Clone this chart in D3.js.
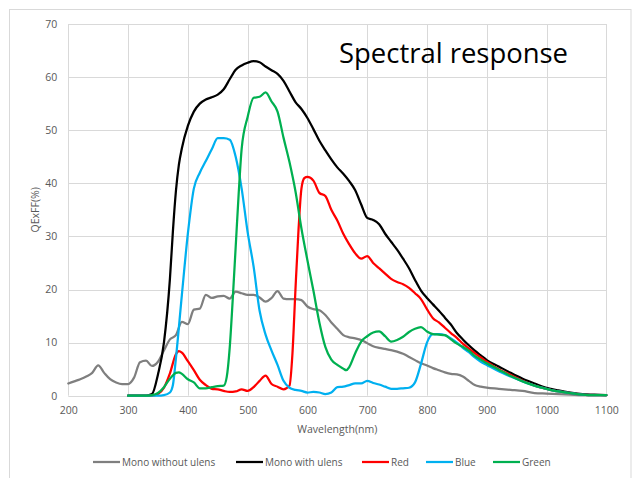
<!DOCTYPE html>
<html>
<head>
<meta charset="utf-8">
<script src="https://cdn.jsdelivr.net/npm/d3@7"></script>
<style>
  html, body { margin: 0; padding: 0; background: #ffffff; }
  svg { display: block; }
</style>
</head>
<body>
<svg id="chart" width="633" height="478"></svg>
<script>
// ---------------- DATA ----------------
const xTicks = [200, 300, 400, 500, 600, 700, 800, 900, 1000, 1100];
const yTicks = [0, 10, 20, 30, 40, 50, 60, 70];
const seriesNames = ["Mono without ulens", "Mono with ulens", "Red", "Blue", "Green"];
const seriesColors = ["#7f7f7f", "#000000", "#ff0000", "#00b0f0", "#00b050"];

const monoNoLensWl = [200,210,220,230,240,250,260,270,280,290,300,310,320,330,340,350,360,370,380,390,400,410,420,430,440,450,460,470,480,490,500,510,520,530,540,550,560,570,580,590,600,610,620,630,640,650,660,670,680,690,700,710,720,730,740,750,760,770,780,790,800,810,820,830,840,850,860,870,880,890,900,920,940,960,980,1000,1020,1040,1060,1080,1100];
const monoNoLensQE = [2.3,2.7,3.1,3.6,4.3,5.7,4.3,3.1,2.5,2.2,2.2,3.4,6.3,6.6,5.6,6.4,8.5,10.6,11.4,13.9,13.5,16.2,16.4,19.0,18.4,18.7,18.8,18.3,19.6,19.3,19.0,19.0,18.5,17.7,18.4,19.7,18.3,18.2,18.2,18.0,16.8,16.3,16.1,15.2,13.8,12.6,11.4,11.0,10.8,10.5,9.9,9.3,9.0,8.8,8.6,8.3,7.9,7.3,6.7,6.1,5.7,5.2,4.8,4.4,4.1,4.0,3.6,2.8,2.0,1.7,1.5,1.3,1.1,0.9,0.5,0.4,0.3,0.2,0.1,0.1,0.1];

const monoLensWl = [300,320,330,340,350,360,370,375,380,385,390,400,410,420,430,440,450,460,470,480,490,500,510,520,530,540,550,560,570,580,590,600,610,620,630,640,650,660,670,680,690,700,710,720,730,740,750,760,770,780,790,800,810,820,830,840,850,860,870,880,890,900,920,940,960,980,1000,1020,1040,1060,1080,1100];
const monoLensQE = [0,0,0,0.3,4,10,22,31,38.5,43.5,46.6,50.8,53.5,55.0,55.8,56.2,56.7,57.7,59.6,61.4,62.2,62.7,63.0,62.8,62.0,61.3,60.6,59.3,57.3,55.3,54.0,52.3,50.2,48.0,46.2,44.5,43.0,41.8,40.4,38.7,36.0,33.5,33.1,32.3,30.5,29.0,27.5,25.8,24.0,21.8,19.8,18.4,17.2,16.0,14.7,13.4,11.8,10.6,9.5,8.5,7.6,6.7,5.5,4.3,3.2,2.3,1.5,1.0,0.6,0.3,0.2,0.1];

const redWl = [300,340,350,360,370,380,385,390,400,410,420,430,440,450,460,470,480,490,500,510,520,530,540,550,560,570,575,580,585,590,595,600,610,620,630,640,650,660,670,680,690,700,710,720,730,740,750,760,770,780,790,800,810,820,830,840,850,860,870,880,890,900,920,940,960,980,1000,1020,1040,1060,1080,1100];
const redQE = [0,0,0.3,1.5,4.2,7.8,8.4,8.1,6.5,4.8,3.0,2.0,1.3,1.2,0.9,0.7,0.8,1.2,0.9,1.6,2.8,3.8,2.2,1.7,1.2,1.9,8,20,31,39,41,41.2,40.5,38.2,37.6,35.0,33.0,30.5,28.5,26.8,25.8,26.3,25.0,24.0,23.0,22.0,21.4,21.0,20.3,19.3,18.2,16.3,14.6,13.8,12.8,11.8,10.9,9.8,8.9,8.0,7.2,6.4,5.0,3.9,2.8,1.9,1.3,0.8,0.5,0.2,0.1,0.1];

const blueWl = [300,340,350,360,370,375,380,390,400,410,420,430,440,450,460,470,480,490,500,510,520,530,540,550,560,570,580,590,600,610,620,630,640,650,660,670,680,690,700,710,720,730,740,750,760,770,780,790,800,810,820,830,840,850,860,870,880,890,900,920,940,960,980,1000,1020,1040,1060,1080,1100];
const blueQE = [0,0,0,0.1,0.6,2,7,19,30.5,39,42,44.2,46.4,48.5,48.5,48.2,45,39,30.8,24.3,16,11.5,8.5,5.8,2.8,1.5,1.1,0.9,0.6,0.7,0.6,0.3,0.6,1.6,1.7,2.0,2.3,2.3,2.8,2.4,2.1,1.7,1.3,1.3,1.4,1.5,2.5,6.0,10.0,11.6,11.6,11.4,10.8,10.0,9.0,8.2,7.2,6.4,5.8,4.6,3.6,2.7,1.9,1.3,0.8,0.5,0.2,0.1,0.1];

const greenWl = [300,310,320,330,340,350,360,370,380,385,390,400,410,420,430,440,450,460,465,470,475,480,485,490,500,510,520,530,540,550,560,570,580,590,600,610,620,630,640,650,660,665,670,680,690,700,710,720,730,740,750,760,770,780,790,800,810,820,830,840,850,860,870,880,890,900,920,940,960,980,1000,1020,1040,1060,1080,1100];
const greenQE = [0,0,0,0,0.1,0.5,1.6,3.2,4.3,4.4,4.1,3.1,2.5,1.4,1.4,1.6,1.8,1.9,3.5,9,18,28,38,46.5,52.5,56.1,56.3,57.1,55.4,53.5,48.6,44.0,38.5,31.5,25.5,19.8,13.8,9.2,6.8,5.8,5.1,4.8,5.4,8.0,10.2,11.2,11.9,12.1,11.2,10.2,10.5,11.1,12.0,12.6,12.9,12.1,11.6,11.5,11.4,10.6,9.8,9.2,8.5,7.5,6.8,6.1,4.9,3.7,2.7,1.9,1.3,0.8,0.5,0.2,0.1,0.1];

const seriesWl = [monoNoLensWl, monoLensWl, redWl, blueWl, greenWl];
const seriesQE = [monoNoLensQE, monoLensQE, redQE, blueQE, greenQE];

// ---------------- DRAW ----------------
const svg = d3.select("#chart");
const FONT = "'Open Sans', 'Liberation Sans', sans-serif";
const plot = { left: 68.3, right: 606.3, top: 24, bottom: 395.7 };

const x = d3.scaleLinear().domain([200, 1100]).range([plot.left, plot.right]);
const y = d3.scaleLinear().domain([0, 70]).range([plot.bottom, plot.top]);

// outer chart border
svg.append("rect")
  .attr("x", 9.5).attr("y", 9.5).attr("width", 621.5).attr("height", 480)
  .attr("fill", "none").attr("stroke", "#d9d9d9").attr("stroke-width", 1);

// grid
const grid = svg.append("g");
grid.selectAll("line.h").data(yTicks).join("line")
  .attr("x1", plot.left).attr("x2", plot.right)
  .attr("y1", d => Math.round(y(d)) + 0.5).attr("y2", d => Math.round(y(d)) + 0.5)
  .attr("stroke", "#d9d9d9").attr("stroke-width", 1);
grid.selectAll("line.v").data(xTicks).join("line")
  .attr("y1", plot.top).attr("y2", plot.bottom)
  .attr("x1", d => Math.round(x(d)) + 0.5).attr("x2", d => Math.round(x(d)) + 0.5)
  .attr("stroke", "#d9d9d9").attr("stroke-width", 1);

// axes (labels only, via d3 axes)
const yAxis = svg.append("g")
  .attr("transform", `translate(${plot.left},0)`)
  .call(d3.axisLeft(y).tickValues(yTicks).tickFormat(d3.format("d")).tickSize(0).tickPadding(11));
const xAxis = svg.append("g")
  .attr("transform", `translate(0,${plot.bottom})`)
  .call(d3.axisBottom(x).tickValues(xTicks).tickFormat(d3.format("d")).tickSize(0).tickPadding(11));
[yAxis, xAxis].forEach(a => {
  a.select(".domain").remove();
  a.selectAll("text").attr("fill", "#595959").attr("font-size", 10.5).attr("font-family", FONT);
});

// axis titles
svg.append("text")
  .attr("transform", `translate(39,${(plot.top + plot.bottom) / 2}) rotate(-90)`)
  .attr("text-anchor", "middle")
  .attr("font-family", FONT).attr("font-size", 10.5).attr("fill", "#595959")
  .text("QExFF(%)");
svg.append("text")
  .attr("x", (plot.left + plot.right) / 2).attr("y", 433)
  .attr("text-anchor", "middle")
  .attr("font-family", FONT).attr("font-size", 10.5).attr("fill", "#595959")
  .text("Wavelength(nm)");

// title
svg.append("text")
  .attr("x", 339).attr("y", 63)
  .attr("font-family", FONT).attr("font-size", 28).attr("fill", "#000000")
  .attr("textLength", 229).attr("lengthAdjust", "spacingAndGlyphs")
  .text("Spectral response");

// series lines
const line = d3.line()
  .x(d => x(d[0])).y(d => y(d[1]))
  .curve(d3.curveMonotoneX);
svg.append("clipPath").attr("id", "clip").append("rect")
  .attr("x", plot.left - 2).attr("y", plot.top - 2)
  .attr("width", plot.right - plot.left + 4).attr("height", plot.bottom - plot.top + 4);
const lines = svg.append("g").attr("clip-path", "url(#clip)");
seriesNames.forEach((name, i) => {
  const pts = seriesWl[i].map((w, k) => [w, seriesQE[i][k]]);
  lines.append("path")
    .datum(pts)
    .attr("d", line)
    .attr("fill", "none")
    .attr("stroke", seriesColors[i])
    .attr("stroke-width", 2.25)
    .attr("stroke-linejoin", "round")
    .attr("stroke-linecap", "round");
});

// legend
const legendX = [93, 236, 362, 426, 493];
const legend = svg.append("g");
seriesNames.forEach((name, i) => {
  const g = legend.append("g").attr("transform", `translate(${legendX[i]},462)`);
  g.append("line").attr("x1", 0).attr("x2", 27).attr("y1", 0).attr("y2", 0)
    .attr("stroke", seriesColors[i]).attr("stroke-width", 2.25);
  g.append("text").attr("x", 29).attr("y", 3.6)
    .attr("font-family", FONT).attr("font-size", 10).attr("fill", "#595959")
    .text(name);
});
</script>
</body>
</html>
